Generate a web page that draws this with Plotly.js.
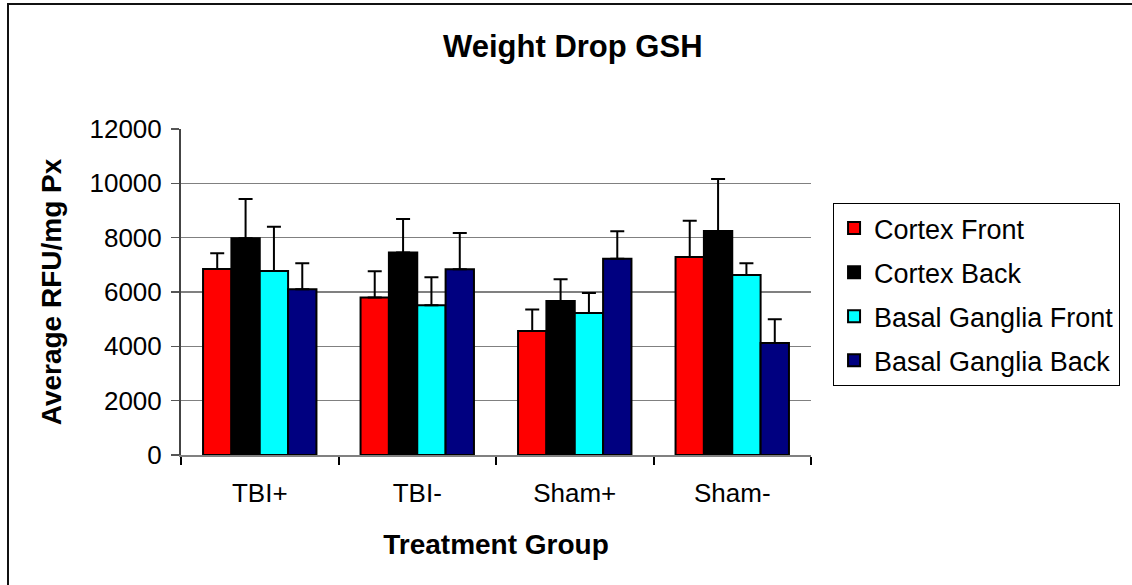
<!DOCTYPE html>
<html>
<head>
<meta charset="utf-8">
<script src="https://cdn.plot.ly/plotly-3.0.1.min.js"></script>
<style>
  html, body { margin: 0; padding: 0; background: #fff; overflow: hidden; }
  #chart { position: absolute; left: 0; top: 0; width: 1132px; height: 585px; }
  #frame { position: absolute; left: 7px; top: 3px; width: 1300px; height: 800px;
           border-left: 2px solid #111; border-top: 2px solid #111; pointer-events: none; }
</style>
</head>
<body>
<div id="chart"></div>
<div id="frame"></div>
<script>
// ---- data ----
const categories = ["TBI+", "TBI-", "Sham+", "Sham-"];
const seriesNames = ["Cortex Front", "Cortex Back", "Basal Ganglia Front", "Basal Ganglia Back"];
const cortexFront      = [6850, 5800, 4560, 7290];
const cortexBack       = [7980, 7450, 5670, 8250];
const basalFront       = [6770, 5510, 5230, 6630];
const basalBack        = [6100, 6840, 7220, 4120];
const cortexFrontErr   = [580, 960, 800, 1330];
const cortexBackErr    = [1440, 1240, 800, 1910];
const basalFrontErr    = [1630, 1030, 730, 430];
const basalBackErr     = [960, 1330, 1020, 880];
const seriesColors = ["#FF0000", "#000000", "#00FFFF", "#000080"];
const yTicks = [0, 2000, 4000, 6000, 8000, 10000, 12000];

const values = [cortexFront, cortexBack, basalFront, basalBack];
const errors = [cortexFrontErr, cortexBackErr, basalFrontErr, basalBackErr];

const FONT = "Liberation Sans, Arial, sans-serif";

const traces = seriesNames.map((name, i) => ({
  type: "bar",
  name: name,
  x: categories,
  y: values[i],
  legendgroup: "g" + i,
  marker: { color: seriesColors[i], line: { color: "#000", width: 2 } },
  error_y: {
    type: "data",
    symmetric: false,
    array: errors[i],
    arrayminus: errors[i].map(() => 0),
    color: "#000",
    thickness: 2,
    width: 7
  },
  hoverinfo: "x+y+name"
}));

const layout = {
  width: 1132,
  height: 585,
  paper_bgcolor: "#fff",
  plot_bgcolor: "#fff",
  margin: { l: 181, r: 319, t: 129, b: 130, pad: 0 },
  barmode: "group",
  bargap: 0.28,
  bargroupgap: 0,
  showlegend: true,
  title: {
    text: "<b>Weight Drop GSH</b>",
    font: { family: FONT, size: 31, color: "#000" },
    x: 0.506, xanchor: "center",
    y: 0.921, yanchor: "middle"
  },
  font: { family: FONT, color: "#000" },
  xaxis: {
    type: "category",
    showline: true, linecolor: "#808080", linewidth: 2,
    ticks: "outside", tickson: "boundaries", ticklen: 8, tickcolor: "#000", tickwidth: 2,
    tickfont: { family: FONT, size: 26, color: "#000" },
    ticklabelstandoff: 14,
    showgrid: false, zeroline: false,
    title: { text: "<b>Treatment Group</b>", font: { family: FONT, size: 28, color: "#000" }, standoff: 27 },
    automargin: false
  },
  yaxis: {
    range: [0, 12000],
    tickvals: yTicks,
    ticktext: yTicks.map(String),
    showline: true, linecolor: "#444", linewidth: 2,
    ticks: "outside", ticklen: 8, tickcolor: "#555", tickwidth: 1.5,
    tickfont: { family: FONT, size: 26, color: "#000" },
    ticklabelstandoff: 4,
    showgrid: true, gridcolor: "#808080", gridwidth: 1.3,
    zeroline: false,
    title: { text: "<b>Average RFU/mg Px</b>", font: { family: FONT, size: 28, color: "#000" }, standoff: 20 },
    automargin: false
  },
  legend: {
    x: 1.035, xanchor: "left",
    y: 0.773, yanchor: "top",
    bgcolor: "#fff",
    bordercolor: "#000", borderwidth: 1,
    font: { family: FONT, size: 27, color: "#000" },
    traceorder: "grouped",
    tracegroupgap: 6,
    itemwidth: 30
  }
};

Plotly.newPlot("chart", traces, layout, { displayModeBar: false, staticPlot: true });
</script>
</body>
</html>
